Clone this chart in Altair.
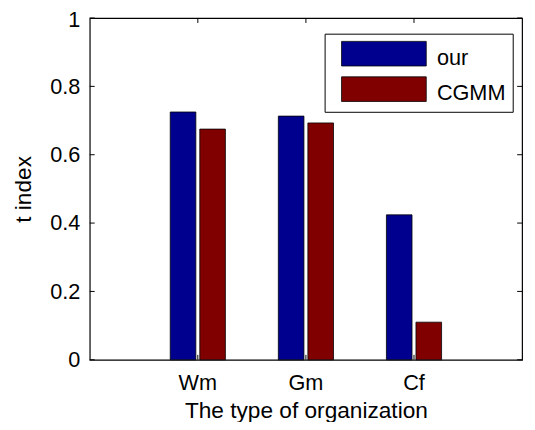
import altair as alt
import pandas as pd

categories = ["Wm", "Gm", "Cf"]
series = ["our", "CGMM"]
our_vals = [0.725, 0.713, 0.424]
cgmm_vals = [0.675, 0.693, 0.11]
y_ticks = [0, 0.2, 0.4, 0.6, 0.8, 1.0]
colors = ["#00008F", "#800000"]

rows = []
for c, a, b in zip(categories, our_vals, cgmm_vals):
    rows.append({"cat": c, "series": "our", "value": a})
    rows.append({"cat": c, "series": "CGMM", "value": b})
df = pd.DataFrame(rows)
ydf = pd.DataFrame({"v": y_ticks})
xdf = pd.DataFrame({"cat": categories})

W, H = 439, 347
FONT = "Liberation Sans"

xscale = alt.Scale(domain=categories, paddingInner=0.4897, paddingOuter=0.7449)
yscale = alt.Scale(domain=[0, 1], nice=False, zero=True)
cscale = alt.Scale(domain=series, range=colors)

xaxis = alt.Axis(title="The type of organization", labelAngle=0, ticks=False, tickSize=0,
                 domain=False, labelPadding=13, titlePadding=7, labelFontSize=22,
                 titleFontSize=23, labelFont=FONT, titleFont=FONT, titleFontWeight="normal",
                 labelColor="black", titleColor="black", grid=False)
yaxis = alt.Axis(title="t index", values=y_ticks, format="~g", ticks=False, tickSize=0,
                 domain=False, labelPadding=10, titlePadding=15, labelFontSize=22,
                 labelOffset={"condition": {"test": "datum.value == 1", "value": 2}, "value": 0},
                 titleFontSize=23, labelFont=FONT, titleFont=FONT, titleFontWeight="normal",
                 labelColor="black", titleColor="black", grid=False)

bottom_ticks = alt.Chart(xdf).mark_rule(color="black", strokeWidth=1).encode(
    x=alt.X("cat:N", scale=xscale, axis=xaxis, bandPosition=0.5, sort=categories),
    y=alt.value(H - 5), y2=alt.value(H),
)

bars = alt.Chart(df).mark_bar(stroke="black", strokeWidth=0.8, opacity=1).encode(
    x=alt.X("cat:N", scale=xscale, axis=xaxis, sort=categories),
    xOffset=alt.XOffset("series:N", sort=series,
                        scale=alt.Scale(domain=series, paddingInner=0.1333, paddingOuter=0)),
    y=alt.Y("value:Q", scale=yscale, axis=yaxis),
    fill=alt.Fill("series:N", sort=series, scale=cscale, legend=None),
)

top_ticks = alt.Chart(xdf).mark_rule(color="black", strokeWidth=1).encode(
    x=alt.X("cat:N", scale=xscale, bandPosition=0.5, sort=categories),
    y=alt.value(0), y2=alt.value(5),
)
left_ticks = alt.Chart(ydf).mark_rule(color="black", strokeWidth=1).encode(
    y=alt.Y("v:Q", scale=yscale), x=alt.value(0), x2=alt.value(5),
)
right_ticks = alt.Chart(ydf).mark_rule(color="black", strokeWidth=1).encode(
    y=alt.Y("v:Q", scale=yscale), x=alt.value(W - 5), x2=alt.value(W),
)

# legend (drawn as a box with swatches and labels)
leg_df = pd.DataFrame({"series": ["box"]})
legend_box = alt.Chart(leg_df).mark_rect(fill="white", stroke="black", strokeWidth=1).encode(
    x=alt.value(239), x2=alt.value(430), y=alt.value(16.4), y2=alt.value(95.7),
)
legend_layers = [legend_box]
for i, s in enumerate(series):
    sdf = pd.DataFrame({"series": [s]})
    top = 23.7 + 36 * i
    legend_layers.append(
        alt.Chart(sdf).mark_rect(stroke="black", strokeWidth=0.8).encode(
            fill=alt.Fill("series:N", scale=cscale, legend=None),
            x=alt.value(255.7), x2=alt.value(341.7), y=alt.value(top), y2=alt.value(top + 25),
        )
    )
    legend_layers.append(
        alt.Chart(sdf).mark_text(align="left", baseline="alphabetic", fontSize=22,
                                 font=FONT, color="black").encode(
            text="series:N", x=alt.value(352.5), y=alt.value(47.5 + 36 * i),
        )
    )

chart = alt.layer(bottom_ticks, bars, top_ticks, left_ticks, right_ticks, *legend_layers).properties(
    width=W, height=H,
    autosize=alt.AutoSizeParams(type="none"),
    padding={"left": 83, "top": 7, "right": 5, "bottom": 60},
    background="white",
).configure_view(stroke="black", strokeWidth=1.2)

chart.save("out.html", embed_options={"renderer": "svg", "actions": False})
